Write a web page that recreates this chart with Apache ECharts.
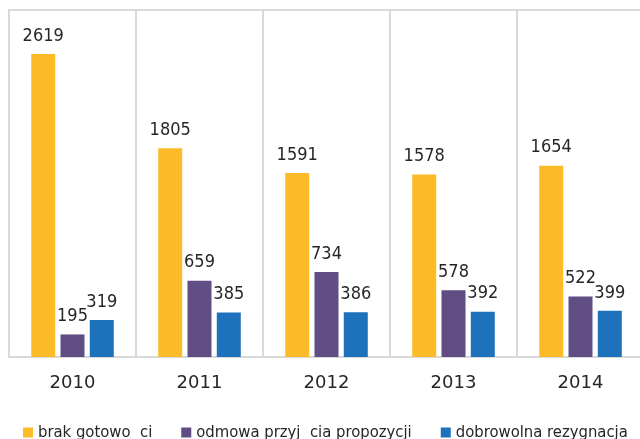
<!DOCTYPE html>
<html>
<head>
<meta charset="utf-8">
<script src="https://cdn.jsdelivr.net/npm/echarts@6/dist/echarts.min.js"></script>
<style>
  html, body { margin: 0; padding: 0; background: #fff; }
  #main { width: 640px; height: 439px; }
</style>
</head>
<body>
<div id="main"></div>
<script>
// lata
var years = ['2010', '2011', '2012', '2013', '2014'];
// serie
var brakGotowosci = [2619, 1805, 1591, 1578, 1654];
var odmowaPrzyjecia = [195, 659, 734, 578, 522];
var dobrowolnaRezygnacja = [319, 385, 386, 392, 399];
var seriesNames = ['brak gotowo  ci', 'odmowa przyj  cia propozycji', 'dobrowolna rezygnacja'];

var font = '"DejaVu Sans Condensed", "Liberation Sans Narrow", "Roboto Condensed", sans-serif';

function barSeries(name, data) {
  return {
    name: name,
    type: 'bar',
    data: data,
    barWidth: 24,
    barGap: '22%',
    label: {
      show: true,
      position: 'top',
      distance: 9,
      color: '#262626',
      fontSize: 18,
      fontFamily: font
    }
  };
}

var chart = echarts.init(document.getElementById('main'));
chart.setOption({
  animation: false,
  color: ['#FDBB28', '#5F4D83', '#1E71BB'],
  grid: {
    left: 9,
    top: 10,
    width: 635,
    height: 347,
    outerBoundsMode: 'none',
    show: true,
    borderColor: '#d9d9d9',
    borderWidth: 2
  },
  legend: {
    top: 419,
    left: 18,
    width: 700,
    itemWidth: 10,
    itemHeight: 10,
    itemGap: 29,
    icon: 'rect',
    textStyle: { fontSize: 16.5, color: '#262626', fontFamily: font },
    data: seriesNames
  },
  xAxis: {
    type: 'category',
    data: years,
    axisLine: { lineStyle: { color: '#d9d9d9', width: 2 } },
    axisTick: { show: false },
    splitLine: { show: true, interval: 0, lineStyle: { color: '#d9d9d9', width: 2 } },
    axisLabel: {
      margin: 17,
      fontSize: 18,
      color: '#262626',
      fontFamily: '"DejaVu Sans", sans-serif'
    }
  },
  yAxis: {
    type: 'value',
    min: 0,
    max: 3000,
    show: false
  },
  series: [
    barSeries(seriesNames[0], brakGotowosci),
    barSeries(seriesNames[1], odmowaPrzyjecia),
    barSeries(seriesNames[2], dobrowolnaRezygnacja)
  ]
});
</script>
</body>
</html>
